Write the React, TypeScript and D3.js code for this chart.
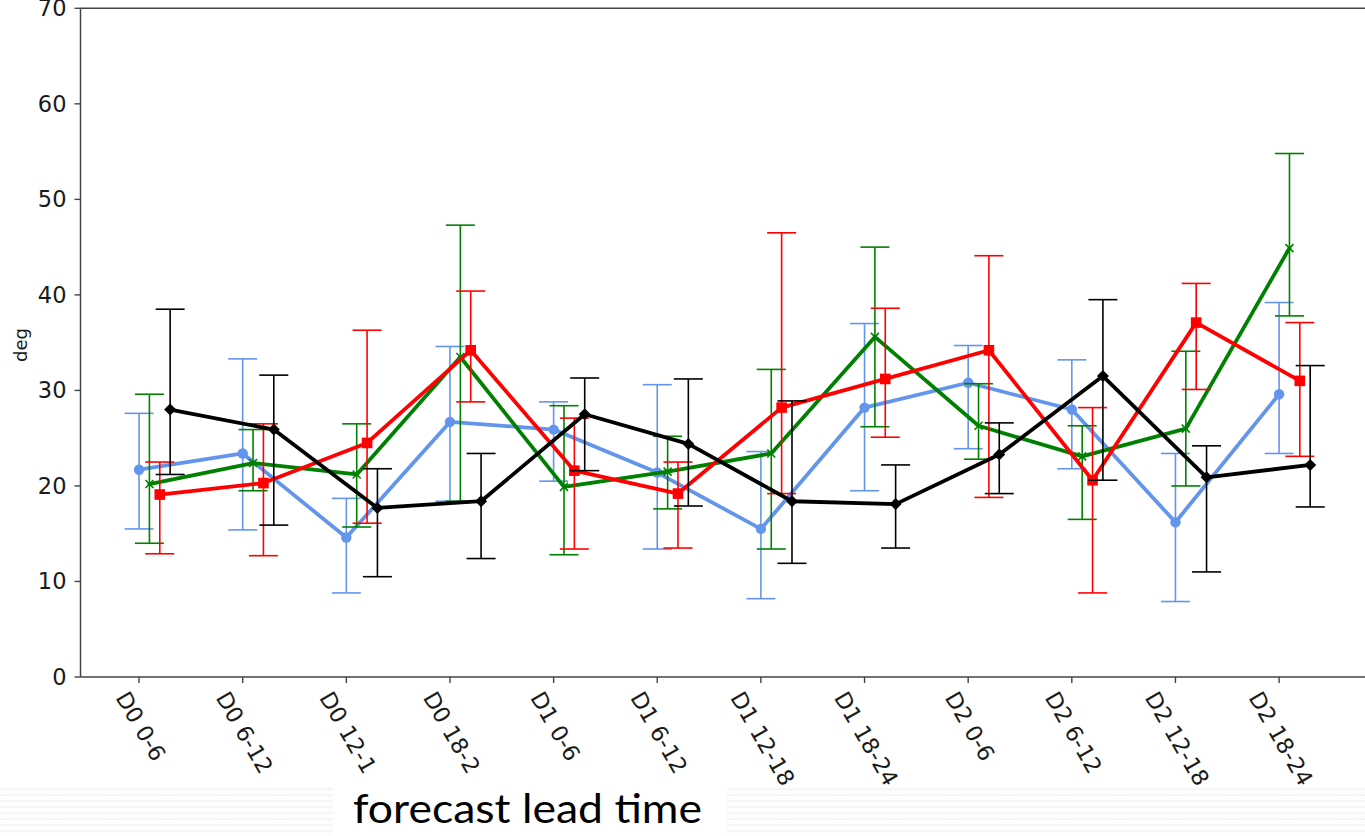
import React, { useEffect, useRef } from "react";
import * as d3 from "d3";

const categories = [
  "D0 0-6", "D0 6-12", "D0 12-1", "D0 18-2", "D1 0-6", "D1 6-12",
  "D1 12-18", "D1 18-24", "D2 0-6", "D2 6-12", "D2 12-18", "D2 18-24",
];
const yTicks = [0, 10, 20, 30, 40, 50, 60, 70];

const blueMean = [21.7, 23.4, 14.6, 26.7, 25.9, 21.4, 15.5, 28.2, 30.8, 28.0, 16.2, 29.6];
const blueLow = [15.5, 15.4, 8.8, 18.4, 20.5, 13.4, 8.2, 19.5, 23.9, 21.8, 7.9, 23.4];
const blueHigh = [27.6, 33.3, 18.7, 34.6, 28.8, 30.6, 23.6, 37.0, 34.7, 33.2, 23.4, 39.2];

const greenMean = [20.2, 22.4, 21.2, 33.5, 19.9, 21.5, 23.4, 35.6, 26.3, 23.1, 26.0, 44.9];
const greenLow = [14.0, 19.5, 15.7, 18.4, 12.8, 17.6, 13.4, 26.2, 22.8, 16.5, 20.0, 37.8];
const greenHigh = [29.6, 25.9, 26.5, 47.3, 28.4, 25.2, 32.2, 45.0, 30.7, 26.3, 34.1, 54.8];

const redMean = [19.1, 20.3, 24.5, 34.2, 21.6, 19.2, 28.2, 31.2, 34.2, 20.6, 37.1, 31.0];
const redLow = [12.9, 12.7, 16.1, 28.8, 13.4, 13.5, 19.2, 25.1, 18.8, 8.8, 30.1, 23.1];
const redHigh = [22.5, 26.5, 36.3, 40.4, 27.1, 22.5, 46.5, 38.6, 44.1, 28.2, 41.2, 37.1];

const blackMean = [28.0, 25.9, 17.7, 18.4, 27.5, 24.4, 18.4, 18.1, 23.3, 31.5, 20.9, 22.2];
const blackLow = [21.2, 15.9, 10.5, 12.4, 21.6, 17.9, 11.9, 13.5, 19.2, 20.6, 11.0, 17.8];
const blackHigh = [38.5, 31.6, 21.8, 23.4, 31.3, 31.2, 28.9, 22.2, 26.6, 39.5, 24.2, 32.6];

type Series = {
  color: string;
  mean: number[];
  low: number[];
  high: number[];
  marker: "circle" | "x" | "square" | "diamond";
  offset: number;
};

const seriesList: Series[] = [
  { color: "#6495ED", mean: blueMean, low: blueLow, high: blueHigh, marker: "circle", offset: 0 },
  { color: "#008000", mean: greenMean, low: greenLow, high: greenHigh, marker: "x", offset: 0.1 },
  { color: "#FF0000", mean: redMean, low: redLow, high: redHigh, marker: "square", offset: 0.2 },
  { color: "#000000", mean: blackMean, low: blackLow, high: blackHigh, marker: "diamond", offset: 0.3 },
];

const W = 1365;
const H = 836;

export default function App() {
  const ref = useRef<SVGSVGElement>(null);

  useEffect(() => {
    const svg = d3.select(ref.current);
    svg.selectAll("*").remove();

    const left = 80.5;
    const top = 8.3;
    const bottom = 677;
    const pxPerUnit = 103.64;
    const x = d3.scaleLinear().domain([-0.565, 11.865]).range([left, left + 12.43 * pxPerUnit]);
    const y = d3.scaleLinear().domain([0, 70]).range([bottom, top]);

    // background pattern strip at bottom
    const defs = svg.append("defs");
    const pat = defs.append("pattern").attr("id", "zig").attr("patternUnits", "userSpaceOnUse")
      .attr("width", 7).attr("height", 6);
    pat.append("rect").attr("width", 7).attr("height", 6).attr("fill", "#fdfdfd");
    pat.append("path").attr("d", "M0,4 L1.75,2 L3.5,4 L5.25,2 L7,4").attr("fill", "none")
      .attr("stroke", "#efefef").attr("stroke-width", 1);

    svg.append("rect").attr("x", 0).attr("y", 0).attr("width", W).attr("height", H).attr("fill", "#fff");
    svg.append("rect").attr("x", 0).attr("y", 787).attr("width", W).attr("height", H - 787).attr("fill", "url(#zig)");
    svg.append("rect").attr("x", 333).attr("y", 787).attr("width", 394).attr("height", H - 787).attr("fill", "#fff");

    const g = svg.append("g");
    const axisColor = "#444";

    // series
    seriesList.forEach((s) => {
      const sg = g.append("g");
      const cap = 14.5;
      s.mean.forEach((m, i) => {
        const cx = x(i + s.offset);
        sg.append("line").attr("x1", cx).attr("x2", cx).attr("y1", y(s.low[i])).attr("y2", y(s.high[i]))
          .attr("stroke", s.color).attr("stroke-width", 1.6);
        [s.low[i], s.high[i]].forEach((v) => {
          sg.append("line").attr("x1", cx - cap).attr("x2", cx + cap).attr("y1", y(v)).attr("y2", y(v))
            .attr("stroke", s.color).attr("stroke-width", 1.6);
        });
      });
      const line = d3.line<number>().x((_, i) => x(i + s.offset)).y((d) => y(d));
      sg.append("path").attr("d", line(s.mean)).attr("fill", "none").attr("stroke", s.color)
        .attr("stroke-width", 3.8).attr("stroke-linejoin", "round").attr("stroke-linecap", "round");
      s.mean.forEach((m, i) => {
        const cx = x(i + s.offset);
        const cy = y(m);
        if (s.marker === "circle") {
          sg.append("circle").attr("cx", cx).attr("cy", cy).attr("r", 5.2).attr("fill", s.color);
        } else if (s.marker === "square") {
          sg.append("rect").attr("x", cx - 5.3).attr("y", cy - 5.3).attr("width", 10.6).attr("height", 10.6).attr("fill", s.color);
        } else if (s.marker === "diamond") {
          sg.append("path").attr("d", `M${cx},${cy - 6} L${cx + 6},${cy} L${cx},${cy + 6} L${cx - 6},${cy} Z`).attr("fill", s.color);
        } else {
          const r = 4;
          sg.append("path").attr("d", `M${cx - r},${cy - r} L${cx + r},${cy + r} M${cx - r},${cy + r} L${cx + r},${cy - r}`)
            .attr("stroke", s.color).attr("stroke-width", 1.6);
        }
      });
    });

    // spines
    g.append("line").attr("x1", left).attr("x2", W).attr("y1", top).attr("y2", top).attr("stroke", axisColor).attr("stroke-width", 1.5);
    g.append("line").attr("x1", left).attr("x2", W).attr("y1", bottom).attr("y2", bottom).attr("stroke", axisColor).attr("stroke-width", 1.5);
    g.append("line").attr("x1", left).attr("x2", left).attr("y1", top).attr("y2", bottom).attr("stroke", axisColor).attr("stroke-width", 1.5);

    const fs = 22.5;
    const font = "'DejaVu Sans', sans-serif";
    // y ticks
    yTicks.forEach((t) => {
      g.append("line").attr("x1", left - 6).attr("x2", left).attr("y1", y(t)).attr("y2", y(t)).attr("stroke", axisColor).attr("stroke-width", 1.4);
      g.append("text").attr("x", left - 14).attr("y", y(t)).attr("text-anchor", "end").attr("dominant-baseline", "central")
        .attr("font-family", font).attr("font-size", fs).attr("fill", "#1a1a1a").text(String(t));
    });
    // y label
    g.append("text").attr("transform", `translate(27,345) rotate(-90)`).attr("text-anchor", "middle")
      .attr("font-family", font).attr("font-size", 18).attr("fill", "#1a1a1a").text("deg");

    // x ticks and labels
    const theta = (60 * Math.PI) / 180;
    const c = Math.cos(theta);
    const sn = Math.sin(theta);
    categories.forEach((cat, i) => {
      const tx0 = x(i);
      g.append("line").attr("x1", tx0).attr("x2", tx0).attr("y1", bottom).attr("y2", bottom + 6).attr("stroke", axisColor).attr("stroke-width", 1.4);
      const t = g.append("text").attr("font-family", font).attr("font-size", fs).attr("fill", "#1a1a1a").text(cat);
      const w = (t.node() as SVGTextElement).getComputedTextLength();
      const asc = 0.76 * fs;
      const desc = 0.24 * fs;
      const pts = [[0, -asc], [w, -asc], [0, desc], [w, desc]].map(([px, py]) => [px * c - py * sn, px * sn + py * c]);
      const minX = d3.min(pts, (p) => p[0]) as number;
      const maxX = d3.max(pts, (p) => p[0]) as number;
      const minY = d3.min(pts, (p) => p[1]) as number;
      const tx = tx0 - (minX + maxX) / 2;
      const ty = bottom + 12 - minY;
      t.attr("transform", `translate(${tx},${ty}) rotate(60)`);
    });

    // slide caption
    svg.append("text").attr("x", 353).attr("y", 823).attr("font-family", "Lato, 'Open Sans', sans-serif")
      .attr("font-size", 41).attr("fill", "#000").attr("textLength", 349).attr("lengthAdjust", "spacingAndGlyphs")
      .text("forecast lead time");
  }, []);

  return (
    <svg ref={ref} width={W} height={H} style={{ position: "absolute", left: 0, top: 0, display: "block" }} />
  );
}
